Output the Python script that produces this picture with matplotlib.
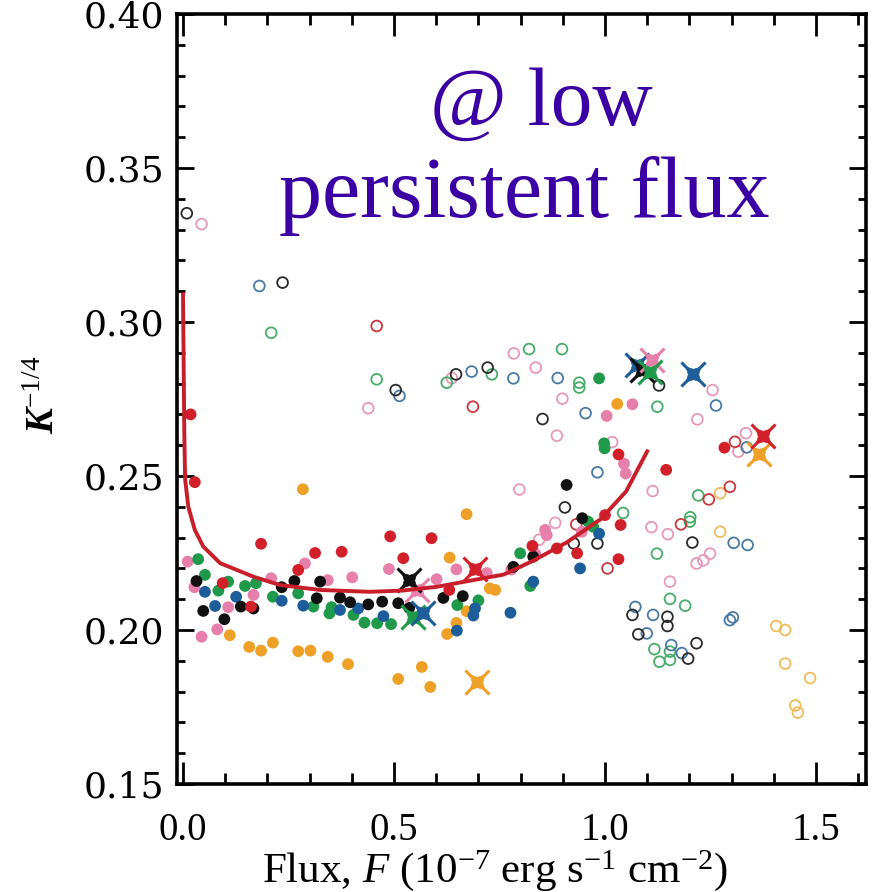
import matplotlib
matplotlib.use('Agg')
from matplotlib import pyplot as plt
from matplotlib.ticker import MultipleLocator, FormatStrFormatter

plt.rcParams['font.family'] = ['Liberation Serif', 'DejaVu Serif']
plt.rcParams['mathtext.fontset'] = 'custom'
plt.rcParams['mathtext.rm'] = 'Liberation Serif'
plt.rcParams['mathtext.it'] = 'Liberation Serif:italic'
plt.rcParams['mathtext.bf'] = 'Liberation Serif:bold:italic'

# --- data ---
curve_x = [0.0, 0.001, 0.003, 0.005, 0.0126, 0.028, 0.048, 0.088, 0.167, 0.23, 0.325,
           0.443, 0.52, 0.60, 0.68, 0.76, 0.83, 0.91, 0.99, 1.05, 1.10]
curve_y = [0.309, 0.295, 0.265, 0.249, 0.240, 0.2325, 0.2271, 0.2217, 0.2173, 0.2146, 0.2130,
           0.2124, 0.2128, 0.2140, 0.2160, 0.2180, 0.2225, 0.2285, 0.236, 0.245, 0.258]

red_fill_x = [0.018, 0.028, 0.185, 0.313, 0.376, 0.491, 0.273, 0.522, 0.589, 0.094, 0.161,
              0.631, 0.828, 0.886, 0.934, 1.000, 1.037, 1.032, 1.032, 1.145, 1.283]
red_fill_y = [0.270, 0.248, 0.228, 0.225, 0.2254, 0.2304, 0.2195, 0.2233, 0.2298, 0.2152, 0.2076,
              0.213, 0.2273, 0.2265, 0.2249, 0.2373, 0.2341, 0.223, 0.257, 0.252, 0.2592]
red_open_x = [0.459, 0.687, 0.932, 1.006, 1.180, 1.246, 1.296, 1.308]
red_open_y = [0.2987, 0.2725, 0.2343, 0.220, 0.2343, 0.2424, 0.2465, 0.2611]

black_fill_x = [0.032, 0.234, 0.264, 0.325, 0.317, 0.372, 0.396, 0.439, 0.472, 0.510, 0.048,
                0.137, 0.167, 0.098, 0.617, 0.663, 0.536, 0.830, 0.783, 0.909, 0.946]
black_fill_y = [0.2159, 0.2139, 0.2159, 0.2157, 0.2103, 0.2105, 0.209, 0.2083, 0.2092, 0.2087, 0.2062,
                0.2076, 0.2070, 0.2035, 0.2104, 0.211, 0.2072, 0.2238, 0.2205, 0.2471, 0.2363]
black_open_x = [0.009, 0.236, 0.504, 0.647, 0.722, 0.852, 1.128, 0.905, 0.926, 0.982, 1.207,
                1.065, 1.148, 1.148, 1.079, 1.197, 1.217]
black_open_y = [0.3353, 0.3128, 0.2779, 0.283, 0.2852, 0.2685, 0.2794, 0.2398, 0.2281, 0.2281, 0.2284,
                0.2049, 0.2043, 0.2013, 0.1986, 0.1907, 0.1957]

blue_fill_x = [0.052, 0.126, 0.234, 0.076, 0.285, 0.372, 0.415, 0.475, 0.692, 0.688, 0.649,
               0.776, 0.830, 0.941, 0.986]
blue_fill_y = [0.2124, 0.2108, 0.2095, 0.2078, 0.2079, 0.2065, 0.207, 0.2045, 0.207, 0.2047, 0.1998,
               0.2056, 0.2157, 0.22, 0.2313]
blue_open_x = [0.181, 0.513, 0.684, 0.783, 0.888, 0.954, 1.263, 0.982, 1.336, 1.305, 1.338,
               1.072, 1.114, 1.099, 1.296, 1.303, 1.157, 1.182]
blue_open_y = [0.3117, 0.276, 0.2839, 0.2817, 0.2818, 0.2704, 0.2729, 0.2512, 0.2593, 0.2283, 0.2276,
               0.2075, 0.2049, 0.1989, 0.2032, 0.2041, 0.1951, 0.1925]

green_fill_x = [0.036, 0.052, 0.084, 0.107, 0.147, 0.173, 0.213, 0.273, 0.309, 0.352, 0.347, 0.404,
                0.430, 0.460, 0.493, 0.650, 0.700, 0.823, 0.799, 0.960, 0.972, 0.998, 0.999, 0.986]
green_fill_y = [0.223, 0.2179, 0.2128, 0.2157, 0.2143, 0.2152, 0.2108, 0.2119, 0.2076, 0.2074, 0.2054, 0.2049,
                0.2024, 0.2022, 0.2019, 0.2081, 0.2096, 0.2143, 0.2249, 0.2352, 0.2335, 0.2606, 0.259, 0.2817]
green_open_x = [0.209, 0.459, 0.625, 0.732, 0.820, 0.898, 0.939, 0.939, 1.124, 1.043, 1.221,
                1.202, 1.201, 1.123, 1.154, 1.190, 1.117, 1.129, 1.154, 1.154]
green_open_y = [0.2965, 0.2814, 0.2803, 0.283, 0.2912, 0.2912, 0.2803, 0.2787, 0.2725, 0.238, 0.2437,
                0.2366, 0.2352, 0.2248, 0.2101, 0.2079, 0.1938, 0.1897, 0.1903, 0.193]

pink_fill_x = [0.011, 0.027, 0.167, 0.107, 0.044, 0.081, 0.209, 0.289, 0.343, 0.401, 0.488, 0.601,
               0.648, 0.720, 0.778, 0.835, 0.858, 0.862, 0.945, 1.004, 1.065, 1.045, 1.049]
pink_fill_y = [0.2222, 0.2139, 0.2114, 0.2074, 0.1978, 0.2002, 0.2168, 0.2216, 0.2162, 0.2171, 0.2198, 0.2165,
               0.2197, 0.2185, 0.2196, 0.2247, 0.2325, 0.2308, 0.2319, 0.2695, 0.2733, 0.254, 0.2508]
pink_open_x = [0.044, 0.439, 0.637, 0.784, 0.836, 0.899, 0.886, 1.017, 1.255, 1.219, 1.334,
               1.316, 0.797, 1.113, 0.882, 0.844, 1.110, 1.149, 1.217, 1.233, 1.249, 1.154]
pink_open_y = [0.3318, 0.272, 0.2818, 0.2898, 0.2852, 0.2751, 0.2631, 0.261, 0.2779, 0.2684, 0.2639,
               0.2579, 0.2456, 0.2451, 0.2348, 0.2293, 0.2334, 0.2311, 0.2216, 0.2226, 0.2248, 0.2157]

orange_fill_x = [0.284, 0.672, 0.632, 0.727, 0.740, 0.672, 0.648, 0.626, 0.111, 0.157, 0.185,
                 0.213, 0.273, 0.302, 0.343, 0.391, 0.510, 0.566, 0.586, 1.029]
orange_fill_y = [0.2457, 0.2376, 0.2235, 0.2135, 0.213, 0.2061, 0.2023, 0.1987, 0.1983, 0.1945, 0.1933,
                 0.1959, 0.1931, 0.1933, 0.1913, 0.1889, 0.1841, 0.188, 0.1815, 0.2734]
orange_open_x = [1.273, 1.273, 1.406, 1.427, 1.427, 1.486, 1.451, 1.457]
orange_open_y = [0.2444, 0.2319, 0.2013, 0.200, 0.1891, 0.1844, 0.1755, 0.1732]

star_x = [0.555, 0.535, 0.544, 0.568, 0.692, 0.696, 1.075, 1.087, 1.111, 1.107, 1.208, 1.366, 1.375]
star_y = [0.213, 0.2162, 0.2043, 0.2054, 0.2197, 0.1832, 0.286, 0.2844, 0.2877, 0.2839, 0.283, 0.2571, 0.263]
star_group = ['pink', 'black', 'green', 'blue', 'red', 'orange', 'blue', 'black', 'pink', 'green',
              'blue', 'orange', 'red']

fill_col = {'red': '#d2202a', 'black': '#111111', 'blue': '#1c5d9a', 'green': '#1e9a4a',
            'pink': '#e77fab', 'orange': '#eea126'}
open_col = {'red': '#c8383f', 'black': '#2a2a2a', 'blue': '#4a79a6', 'green': '#47ad68',
            'pink': '#e898ba', 'orange': '#f0bc5a'}

fig = plt.figure(figsize=(8.79, 8.92), dpi=100)
ax = fig.add_axes([177 / 879, 1 - 784 / 892, 689 / 879, 770 / 892])

groups = [
    ('pink', pink_fill_x, pink_fill_y, pink_open_x, pink_open_y),
    ('orange', orange_fill_x, orange_fill_y, orange_open_x, orange_open_y),
    ('green', green_fill_x, green_fill_y, green_open_x, green_open_y),
    ('blue', blue_fill_x, blue_fill_y, blue_open_x, blue_open_y),
    ('black', black_fill_x, black_fill_y, black_open_x, black_open_y),
    ('red', red_fill_x, red_fill_y, red_open_x, red_open_y),
]
for name, fx, fy, ox, oy in groups:
    ax.scatter(ox, oy, s=60, facecolors='none', edgecolors=open_col[name], linewidths=1.3, zorder=2)
    ax.scatter(fx, fy, s=72, c=fill_col[name], edgecolors='none', zorder=3)

# the big crosses: a thin x with a small 4-point core
for x, y, g in zip(star_x, star_y, star_group):
    ax.plot(x, y, marker='x', ms=17, mew=2.2, color=fill_col[g], ls='none', zorder=4)
    ax.plot(x, y, marker=(4, 1, 45), ms=15, color=fill_col[g], mec=fill_col[g], mew=0.5,
            ls='none', zorder=4)

ax.plot(curve_x, curve_y, color='#c81e2a', lw=2.8, zorder=5)

ax.set_xlim(-0.0142, 1.6185)
ax.set_ylim(0.15, 0.40)

ax.xaxis.set_major_locator(MultipleLocator(0.5))
ax.xaxis.set_minor_locator(MultipleLocator(0.1))
ax.yaxis.set_major_locator(MultipleLocator(0.05))
ax.yaxis.set_minor_locator(MultipleLocator(0.01))
ax.xaxis.set_major_formatter(FormatStrFormatter('%.1f'))
ax.yaxis.set_major_formatter(FormatStrFormatter('%.2f'))

ax.tick_params(which='both', direction='in', top=True, right=True, color='black')
ax.tick_params(axis='x', which='major', length=16, width=2.0, labelsize=28, pad=20)
ax.tick_params(axis='x', which='minor', length=8, width=2.0)
ax.tick_params(axis='y', which='major', length=12, width=2.0, labelsize=26, pad=9)
ax.tick_params(axis='y', which='minor', length=6, width=2.0)
for lab in ax.get_yticklabels():
    lab.set_family('DejaVu Serif')
for sp in ax.spines.values():
    sp.set_linewidth(2.6)

ax.set_xlabel(r'Flux, $F$ (10$^{-7}$ erg s$^{-1}$ cm$^{-2}$)', fontsize=31)
ax.xaxis.set_label_coords(0.4615, -0.083)
ax.set_ylabel(r'$\mathbf{K}^{\mathrm{-1/4}}$', fontsize=28)
ax.yaxis.set_label_coords(-0.165, 0.505)

ax.text(0.848, 0.364, '@ low', color='#3a00a3', fontsize=60, ha='center', va='baseline', zorder=6)
ax.text(0.808, 0.334, 'persistent flux', color='#3a00a3', fontsize=62, ha='center', va='baseline', zorder=6)

fig.savefig('out.png', dpi=100, facecolor='white')
